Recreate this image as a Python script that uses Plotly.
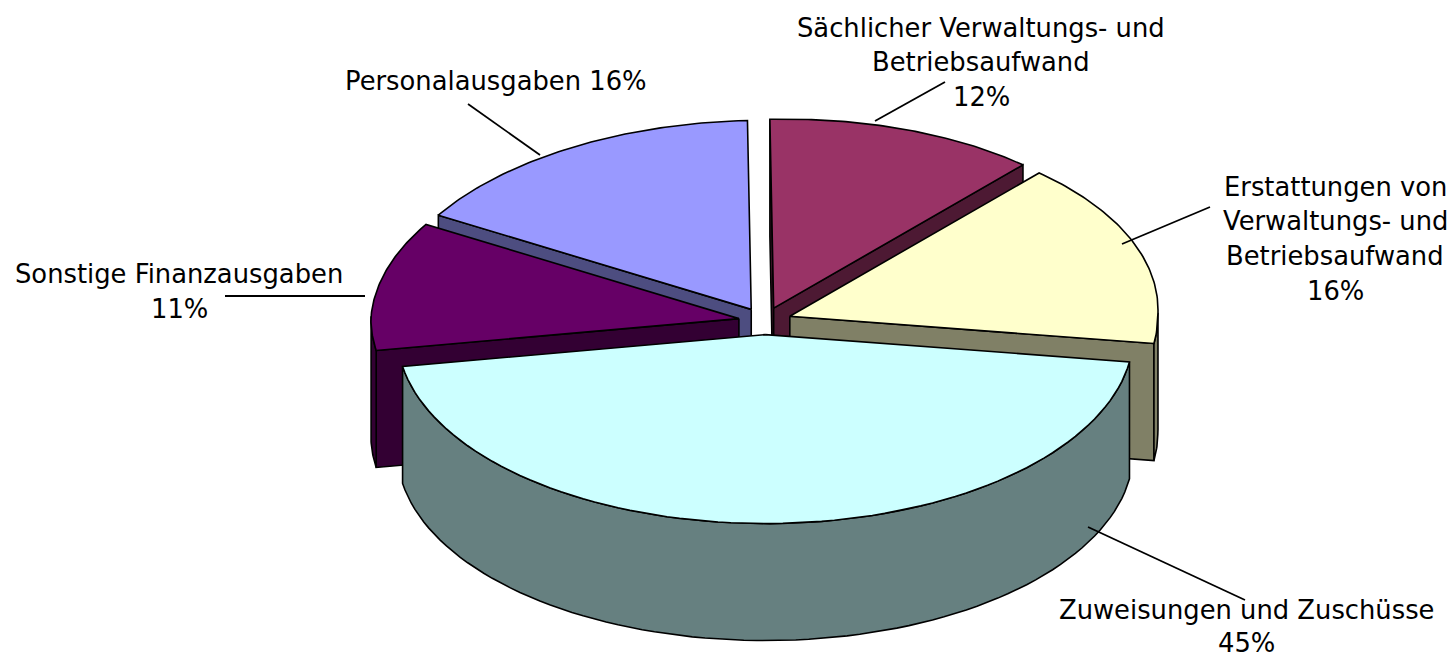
import math
import plotly.graph_objects as go

categories = ["Personalausgaben", "Sächlicher Verwaltungs- und Betriebsaufwand",
              "Erstattungen von Verwaltungs- und Betriebsaufwand",
              "Zuweisungen und Zuschüsse", "Sonstige Finanzausgaben"]
shares = [16, 12, 16, 45, 11]
top_colors = ["#9999FF", "#993366", "#FFFFCC", "#CCFFFF", "#660066"]
side_colors = ["#4D4D80", "#4D1933", "#808066", "#668080", "#330033"]
draw_order = [0, 1, 2, 4, 3]

labels = [
    ("Personalausgaben 16%", 496, 81),
    ("Sächlicher Verwaltungs- und", 981, 28),
    ("Betriebsaufwand", 981, 62),
    ("12%", 981, 97),
    ("Erstattungen von", 1335, 187),
    ("Verwaltungs- und", 1335, 221),
    ("Betriebsaufwand", 1335, 256),
    ("16%", 1335, 291),
    ("Zuweisungen und Zuschüsse", 1246, 610),
    ("45%", 1246, 643),
    ("Sonstige Finanzausgaben", 179, 274),
    ("11%", 179, 309),
]
leaders = [((540, 155), (468, 104)), ((875, 121), (945, 82)), ((1122, 244), (1210, 207)),
           ((1088, 527), (1245, 600)), ((365, 296), (225, 296))]

CX, CY, RX, RY, DEPTH, EXPLODE, START, SHEAR = 765, 321, 368, 189, 117, 0.072, -2.5, -0.065


def pt(ox, oy, ang, dz=0):
    a = math.radians(ang)
    dy = -RY * math.cos(a)
    skew = SHEAR * dy if dy < 0 else 0
    return ox + RX * math.sin(a) + skew, oy + dy + dz


def poly(fig, pts, color):
    fig.add_trace(go.Scatter(x=[p[0] for p in pts] + [pts[0][0]], y=[p[1] for p in pts] + [pts[0][1]],
                             mode="lines", fill="toself", fillcolor=color,
                             line=dict(color="black", width=1.6), hoverinfo="skip", showlegend=False))


spans = []
acc = 0
for s in shares:
    spans.append((acc, acc + s))
    acc += s
total = sum(shares)
# Personalausgaben ends at the start angle, so the pie begins one share earlier
base = START - shares[0] * 360 / total

fig = go.Figure()
for i in draw_order:
    a0 = base + spans[i][0] * 360 / total
    a1 = base + spans[i][1] * 360 / total
    mid = math.radians((a0 + a1) / 2)
    ox = CX + EXPLODE * RX * math.sin(mid)
    oy = CY - EXPLODE * RY * math.cos(mid)
    steps = [a0 + (a1 - a0) * k / 80 for k in range(81)]
    # only the cut faces that look towards the viewer are drawn
    if math.sin(math.radians(a0)) < 0:
        poly(fig, [(ox, oy), pt(ox, oy, a0), pt(ox, oy, a0, DEPTH), (ox, oy + DEPTH)], side_colors[i])
    if math.sin(math.radians(a1)) > 0:
        poly(fig, [(ox, oy), pt(ox, oy, a1), pt(ox, oy, a1, DEPTH), (ox, oy + DEPTH)], side_colors[i])
    front = [a for a in steps if math.cos(math.radians(a)) <= 0.02]
    if front:
        poly(fig, [pt(ox, oy, a) for a in front] + [pt(ox, oy, a, DEPTH) for a in reversed(front)], side_colors[i])
    poly(fig, [(ox, oy)] + [pt(ox, oy, a) for a in steps], top_colors[i])

for (x0, y0), (x1, y1) in leaders:
    fig.add_shape(type="line", x0=x0, y0=y0, x1=x1, y1=y1, line=dict(color="black", width=1.8))
for text, x, y in labels:
    fig.add_annotation(x=x, y=y, text=text, showarrow=False, align="center",
                       font=dict(family="DejaVu Sans", size=25.8, color="black"), bgcolor="rgba(0,0,0,0)")

fig.update_xaxes(range=[0, 1454], visible=False, fixedrange=True)
fig.update_yaxes(range=[657, 0], visible=False, fixedrange=True)
fig.update_layout(width=1454, height=657, margin=dict(l=0, r=0, t=0, b=0),
                  paper_bgcolor="white", plot_bgcolor="white", showlegend=False)
fig.write_html("out.html", config={"displayModeBar": False},
               post_script="document.body.style.margin='0';")
